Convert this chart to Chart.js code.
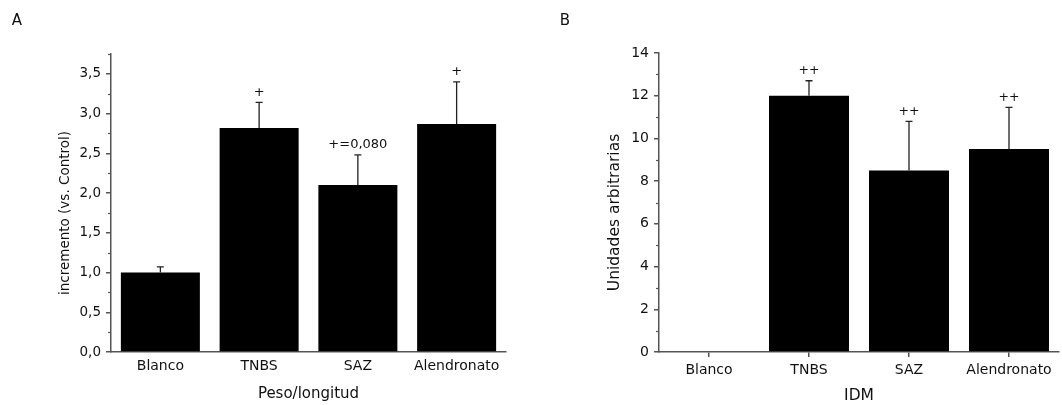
<!DOCTYPE html>
<html>
<head>
<meta charset="utf-8">
<script src="https://cdn.jsdelivr.net/npm/chart.js@4/dist/chart.umd.min.js"></script>
<style>
  html, body { margin: 0; padding: 0; background: #fff; }
  #wrap { position: relative; width: 1062px; height: 405px; }
  canvas { position: absolute; top: 0; }
  #panelA { left: 0; }
  #panelB { left: 531px; }
</style>
</head>
<body>
<div id="wrap">
  <canvas id="panelA" width="531" height="405"></canvas>
  <canvas id="panelB" width="531" height="405"></canvas>
</div>
<script>
// datos
const categorias = ["Blanco", "TNBS", "SAZ", "Alendronato"];

const pesoLongitud = [1.00, 2.82, 2.10, 2.87];
const pesoLongitudErr = [0.07, 0.32, 0.38, 0.53];
const pesoLongitudMarcas = ["", "+", "+=0,080", "+"];
const ticksA = [0, 0.5, 1.0, 1.5, 2.0, 2.5, 3.0, 3.5];
const menoresA = [0.25, 0.75, 1.25, 1.75, 2.25, 2.75, 3.25, 3.75];

const idm = [0, 12.0, 8.5, 9.5];
const idmErr = [0, 0.7, 2.3, 1.95];
const idmMarcas = ["", "++", "++", "++"];
const ticksB = [0, 2, 4, 6, 8, 10, 12, 14];
const menoresB = [1, 3, 5, 7, 9, 11, 13];

const FUENTE = "'DejaVu Sans', Verdana, sans-serif";
const EJE = "#555";
const TEXTO = "#111";

// barras de error, marcas (+), ticks menores, título del eje y y letra del panel
const extras = {
    id: "extras",
    afterDatasetsDraw(chart, args, o) {
        const ctx = chart.ctx;
        const y = chart.scales.y;
        const area = chart.chartArea;
        const valores = chart.data.datasets[0].data;
        ctx.save();

        ctx.strokeStyle = "#222";
        ctx.lineWidth = 1.3;
        ctx.fillStyle = TEXTO;
        ctx.textAlign = "center";
        ctx.textBaseline = "middle";
        ctx.font = o.marcaSize + "px " + FUENTE;
        chart.getDatasetMeta(0).data.forEach((bar, i) => {
            if (!o.errores[i]) return;
            const yTop = y.getPixelForValue(valores[i] + o.errores[i]);
            ctx.beginPath();
            ctx.moveTo(bar.x, bar.y);
            ctx.lineTo(bar.x, yTop);
            ctx.moveTo(bar.x - 3.5, yTop);
            ctx.lineTo(bar.x + 3.5, yTop);
            ctx.stroke();
            if (o.marcas[i]) ctx.fillText(o.marcas[i], bar.x, yTop - 10);
        });

        // ticks menores del eje y
        ctx.strokeStyle = EJE;
        ctx.lineWidth = 1.2;
        o.menores.forEach(v => {
            const py = Math.round(y.getPixelForValue(v)) + 0.5;
            ctx.beginPath();
            ctx.moveTo(area.left - 3, py);
            ctx.lineTo(area.left, py);
            ctx.stroke();
        });

        // título del eje y (un poco por debajo del centro, como en el original)
        ctx.save();
        ctx.translate(o.tituloX, (area.top + area.bottom) / 2 + 10);
        ctx.rotate(-Math.PI / 2);
        ctx.font = o.tituloSize + "px " + FUENTE;
        ctx.fillText(o.tituloY, 0, 0);
        ctx.restore();

        // letra del panel
        ctx.font = "15px " + FUENTE;
        ctx.fillText(o.letra, o.letraX, 21);

        ctx.restore();
    }
};

function dibujarPanel(canvasId, d) {
    new Chart(document.getElementById(canvasId), {
        type: "bar",
        data: {
            labels: categorias,
            datasets: [{
                data: d.valores,
                backgroundColor: "#000",
                borderWidth: 0,
                barPercentage: 0.8,
                categoryPercentage: 1
            }]
        },
        options: {
            responsive: false,
            animation: false,
            layout: { padding: { top: d.top, right: d.right, left: 0, bottom: 0 } },
            plugins: {
                legend: { display: false },
                tooltip: { enabled: false },
                extras: {
                    errores: d.errores,
                    marcas: d.marcas,
                    marcaSize: d.marcaSize,
                    menores: d.menores,
                    tituloY: d.tituloY,
                    tituloSize: d.tituloYSize,
                    tituloX: d.tituloX,
                    letra: d.letra,
                    letraX: d.letraX
                }
            },
            scales: {
                x: {
                    grid: {
                        display: true, drawOnChartArea: false, offset: false,
                        drawTicks: d.xTicks, tickLength: 5, color: EJE, lineWidth: 1.5
                    },
                    border: { display: true, color: EJE, width: 1.5 },
                    ticks: {
                        color: TEXTO, padding: d.xPad, maxRotation: 0,
                        font: { family: FUENTE, size: 14 }
                    },
                    title: {
                        display: true, text: d.tituloX2, color: TEXTO,
                        font: { family: FUENTE, size: d.tituloXSize },
                        padding: { top: 0, bottom: d.tituloXPad }
                    },
                    afterFit: s => { s.height = 53; }
                },
                y: {
                    min: 0,
                    max: d.max,
                    afterBuildTicks: s => { s.ticks = d.ticks.map(v => ({ value: v })); },
                    grid: {
                        display: true, drawOnChartArea: false,
                        tickLength: 5, color: EJE, lineWidth: 1.5
                    },
                    border: { display: true, color: EJE, width: 1.5 },
                    ticks: {
                        color: TEXTO, padding: 5,
                        font: { family: FUENTE, size: d.yTickSize },
                        callback: d.formato
                    },
                    afterFit: s => { s.width = d.yAncho; }
                }
            }
        },
        plugins: [extras]
    });
}

dibujarPanel("panelA", {
    valores: pesoLongitud, errores: pesoLongitudErr, marcas: pesoLongitudMarcas, marcaSize: 13,
    ticks: ticksA, menores: menoresA, max: 3.75,
    formato: v => v.toFixed(1).replace(".", ","),
    top: 54, right: 25, yAncho: 111, yTickSize: 13.5,
    xTicks: false, xPad: 6,
    tituloX2: "Peso/longitud", tituloXSize: 15, tituloXPad: 2,
    tituloY: "incremento (vs. Control)", tituloYSize: 13.5, tituloX: 65,
    letra: "A", letraX: 17
});

dibujarPanel("panelB", {
    valores: idm, errores: idmErr, marcas: idmMarcas, marcaSize: 12.5,
    ticks: ticksB, menores: menoresB, max: 14,
    formato: v => String(v),
    top: 53, right: 3, yAncho: 128, yTickSize: 14,
    xTicks: true, xPad: 5,
    tituloX2: "IDM", tituloXSize: 15.5, tituloXPad: 0,
    tituloY: "Unidades arbitrarias", tituloYSize: 15.5, tituloX: 84,
    letra: "B", letraX: 34
});
</script>
</body>
</html>
